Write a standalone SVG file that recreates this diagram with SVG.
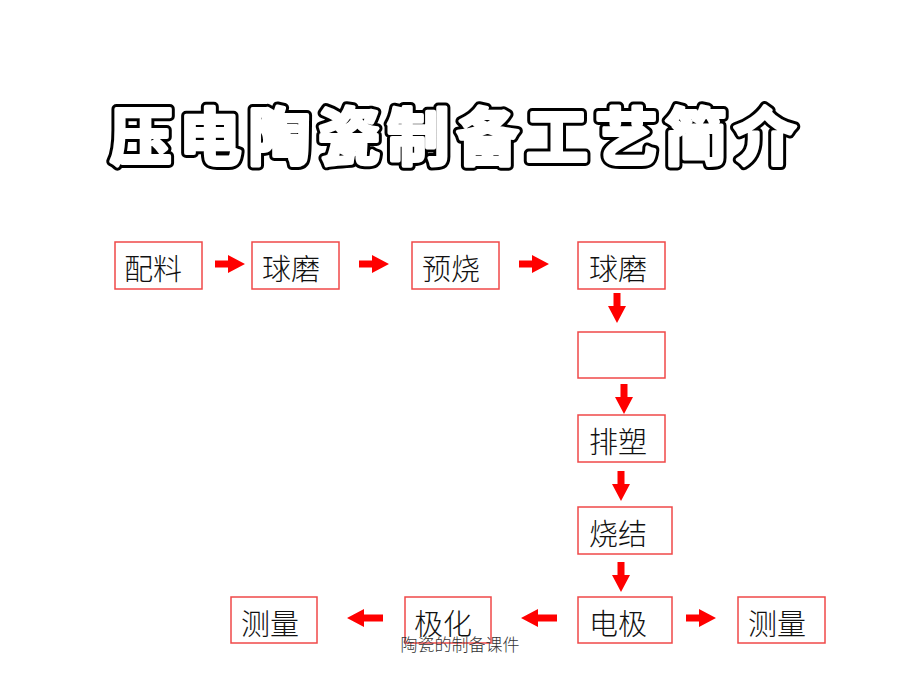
<svg xmlns="http://www.w3.org/2000/svg" width="920" height="690" viewBox="0 0 920 690">
<defs>
<style>
.box rect{fill:#fff;stroke:#f04848;stroke-width:1.5}
.box text{font-family:"Noto Sans CJK SC","Noto Sans CJK JP",sans-serif;font-size:29px;font-weight:300;fill:#111}
.arr{fill:#ff0000}
.title{font-family:"Noto Sans CJK SC","Noto Sans CJK JP",sans-serif;font-size:62px;font-weight:700;stroke-linejoin:round;stroke-linecap:round}
.foot{font-family:"Noto Sans CJK SC","Noto Sans CJK JP",serif;font-size:17px;font-weight:300;fill:#333}
</style>
<path id="ar" d="M0,-3.5 H13 V-9 L30,0 L13,9 V3.5 H0 Z"/>
<path id="arl" d="M0,-3.5 H19 V-9 L36,0 L19,9 V3.5 H0 Z"/>
</defs>
<rect width="920" height="690" fill="#fff"/>
<g id="title">
<text class="title" x="110" y="160" textLength="686" lengthAdjust="spacing" fill="#000" stroke="#000" stroke-width="10">压电陶瓷制备工艺简介</text>
<text class="title" x="110" y="160" textLength="686" lengthAdjust="spacing" fill="#fff" stroke="#fff" stroke-width="4">压电陶瓷制备工艺简介</text>
</g>
<g id="n1" class="box"><rect x="115" y="242" width="87" height="47"/><text x="124" y="280">配料</text></g>
<g id="n2" class="box"><rect x="252" y="242" width="87" height="47"/><text x="262" y="280">球磨</text></g>
<g id="n3" class="box"><rect x="412" y="242" width="87" height="47"/><text x="422" y="280">预烧</text></g>
<g id="n4" class="box"><rect x="578" y="242" width="87" height="47"/><text x="589" y="280">球磨</text></g>
<g id="n5" class="box"><rect x="578" y="332" width="87" height="46"/></g>
<g id="n6" class="box"><rect x="578" y="415" width="87" height="47"/><text x="589" y="453">排塑</text></g>
<g id="n7" class="box"><rect x="578" y="507" width="94" height="47"/><text x="589" y="545">烧结</text></g>
<g id="n8" class="box"><rect x="578" y="597" width="94" height="46"/><text x="589" y="635">电极</text></g>
<g id="n9" class="box"><rect x="405" y="597" width="86" height="46"/><text x="414" y="635">极化</text></g>
<g id="n10" class="box"><rect x="231" y="597" width="86" height="46"/><text x="241" y="635">测量</text></g>
<g id="n11" class="box"><rect x="738" y="597" width="87" height="46"/><text x="748" y="635">测量</text></g>
<g id="connectors" class="arr">
<use href="#ar" transform="translate(215,264)"/>
<use href="#ar" transform="translate(359,264)"/>
<use href="#ar" transform="translate(519,264)"/>
<use href="#ar" transform="translate(617,293) rotate(90)"/>
<use href="#ar" transform="translate(624,384) rotate(90)"/>
<use href="#ar" transform="translate(621,471) rotate(90)"/>
<use href="#ar" transform="translate(621,562) rotate(90)"/>
<use href="#arl" transform="translate(383,618) rotate(180)"/>
<use href="#arl" transform="translate(557,618) rotate(180)"/>
<use href="#ar" transform="translate(686,618)"/>
</g>
<text class="foot" x="460" y="651" text-anchor="middle">陶瓷的制备课件</text>
</svg>
